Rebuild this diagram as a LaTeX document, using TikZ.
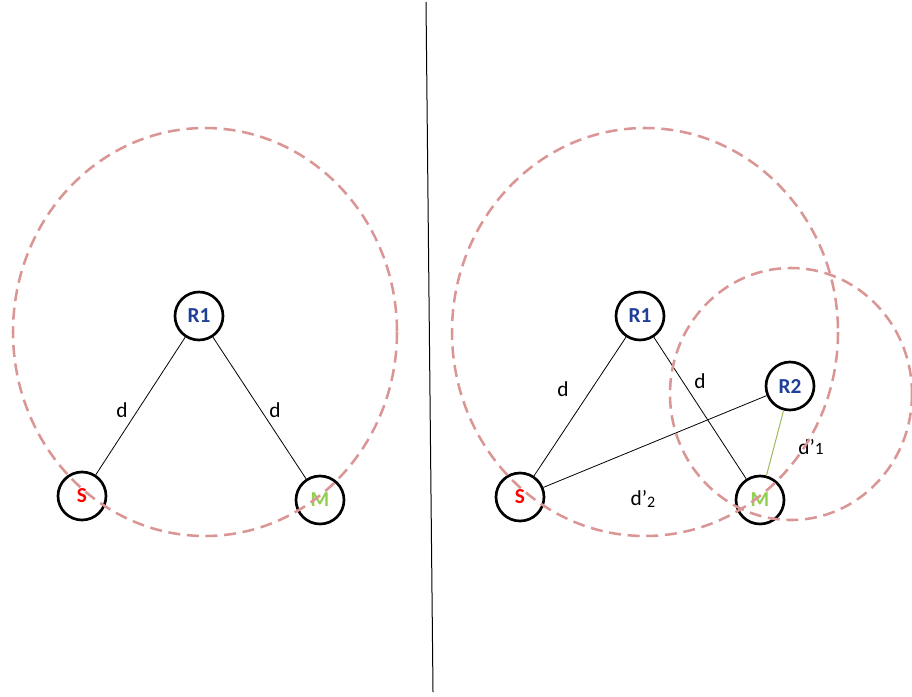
\documentclass[tikz,border=0pt]{standalone}
\usepackage{fontspec}
\setmainfont{Carlito}
\definecolor{dashpink}{HTML}{D99694}
\definecolor{nodeblue}{HTML}{1F3F99}
\definecolor{nodegreen}{HTML}{92D050}
\definecolor{linegreen}{HTML}{9BBB59}
\begin{document}
\begin{tikzpicture}[x=0.75pt,y=-0.75pt,
  nd/.style={circle,draw=black,line width=2pt,fill=white,minimum size=36pt,inner sep=0pt,font=\bfseries\fontsize{16}{18}\selectfont},
  conn/.style={black,line width=0.6pt},
  rng/.style={dashpink,line width=1.9pt,dash pattern=on 9pt off 5pt},
  lbl/.style={font=\fontsize{16}{18}\selectfont,inner sep=0pt}]
\useasboundingbox (0,0) rectangle (912,696);
% divider
\coordinate (top) at (426,2);
\coordinate (bot) at (433,692);
\draw[black,line width=0.75pt] (top) -- (bot);
% left
\node[nd,text=nodeblue] (r1a) at (199,316) {R1};
\node[nd,text=red] (sa) at (82,496) {S};
\node[nd,text=nodegreen] (ma) at (320,500) {M};
\draw[conn] (r1a) -- (sa);
\draw[conn] (r1a) -- (ma);
\node[lbl] (da1) at (122,410) {d};
\node[lbl] (da2) at (275,410) {d};
\draw[rng] (205,332) ellipse [x radius=192, y radius=204];
% right
\node[nd,text=nodeblue] (r1b) at (640,316) {R1};
\node[nd,text=red] (sb) at (520,497) {S};
\node[nd,text=nodegreen] (mb) at (760,500) {M};
\node[nd,text=nodeblue] (r2b) at (790,386) {R2};
\draw[conn] (r1b) -- (sb);
\draw[conn] (r1b) -- (mb);
\draw[conn] (sb) -- (r2b);
\draw[linegreen,line width=0.75pt] (r2b) -- (mb);
\node[lbl] (db1) at (563,389) {d};
\node[lbl] (db2) at (700,381) {d};
\node[lbl] (db3) at (811,447) {d’{\fontsize{13}{15}\selectfont 1}};
\node[lbl] (db4) at (643,499) {d’\raisebox{-1pt}{\fontsize{12}{14}\selectfont 2}};
\draw[rng] (645,332) ellipse [x radius=193, y radius=204];
\draw[rng] (791,394) ellipse [x radius=121, y radius=126];
\end{tikzpicture}
\end{document}
